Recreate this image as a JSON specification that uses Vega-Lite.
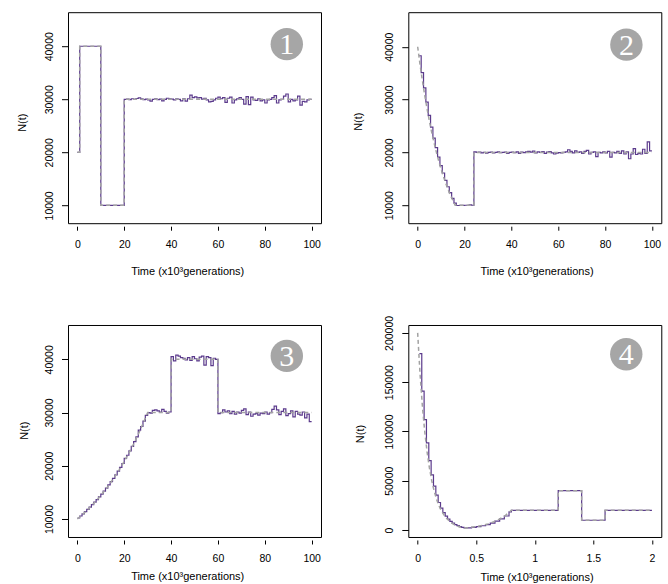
{
  "$schema": "https://vega.github.io/schema/vega-lite/v6.json",
  "background": "white",
  "padding": {"left": 15, "top": 11.2, "right": 5, "bottom": 0},
  "columns": 2,
  "spacing": {"row": 101.8, "column": 87.3},
  "bounds": "flush",
  "datasets": {
    "e1": [
      {"t": 0, "N": 20000}, {"t": 1, "N": 40000}, {"t": 10, "N": 10000}, {"t": 20, "N": 30000},
      {"t": 21, "N": 30050}, {"t": 22, "N": 29950}, {"t": 23, "N": 30100}, {"t": 24, "N": 30000},
      {"t": 25, "N": 30150}, {"t": 26, "N": 30250}, {"t": 27, "N": 30100}, {"t": 28, "N": 29950},
      {"t": 29, "N": 30050}, {"t": 30, "N": 29900}, {"t": 31, "N": 29650}, {"t": 32, "N": 30000},
      {"t": 33, "N": 30100}, {"t": 34, "N": 29950}, {"t": 35, "N": 30050}, {"t": 36, "N": 29700},
      {"t": 37, "N": 30000}, {"t": 38, "N": 30200}, {"t": 39, "N": 30100}, {"t": 40, "N": 30050},
      {"t": 41, "N": 29900}, {"t": 42, "N": 30100}, {"t": 43, "N": 30000}, {"t": 44, "N": 29700},
      {"t": 45, "N": 30100}, {"t": 46, "N": 29650}, {"t": 47, "N": 30100}, {"t": 48, "N": 30800},
      {"t": 49, "N": 30300}, {"t": 50, "N": 30450}, {"t": 51, "N": 30250}, {"t": 52, "N": 30300},
      {"t": 53, "N": 30050}, {"t": 54, "N": 30200}, {"t": 55, "N": 29900}, {"t": 56, "N": 29500},
      {"t": 57, "N": 29600}, {"t": 58, "N": 29900}, {"t": 59, "N": 30200}, {"t": 60, "N": 30400},
      {"t": 61, "N": 30100}, {"t": 62, "N": 30300}, {"t": 63, "N": 29400}, {"t": 64, "N": 30200},
      {"t": 65, "N": 30400}, {"t": 66, "N": 29300}, {"t": 67, "N": 29900}, {"t": 68, "N": 30100},
      {"t": 69, "N": 30300}, {"t": 70, "N": 30000}, {"t": 71, "N": 29100}, {"t": 72, "N": 30500},
      {"t": 73, "N": 29000}, {"t": 74, "N": 30400}, {"t": 75, "N": 29900}, {"t": 76, "N": 29800},
      {"t": 77, "N": 30100}, {"t": 78, "N": 29700}, {"t": 79, "N": 29900}, {"t": 80, "N": 29300},
      {"t": 81, "N": 29900}, {"t": 82, "N": 30000}, {"t": 83, "N": 30300}, {"t": 84, "N": 30700},
      {"t": 85, "N": 29300}, {"t": 86, "N": 29900}, {"t": 87, "N": 30000}, {"t": 88, "N": 30600},
      {"t": 89, "N": 31000}, {"t": 90, "N": 29500}, {"t": 91, "N": 30000}, {"t": 92, "N": 29700},
      {"t": 93, "N": 29900}, {"t": 94, "N": 30600}, {"t": 95, "N": 28900}, {"t": 96, "N": 29600},
      {"t": 97, "N": 29500}, {"t": 98, "N": 29900}, {"t": 99, "N": 30000}, {"t": 100, "N": 30000}
    ],
    "t1": [
      {"t": 0, "N": 20000}, {"t": 1, "N": 20000}, {"t": 1, "N": 40000}, {"t": 10, "N": 40000},
      {"t": 10, "N": 10000}, {"t": 20, "N": 10000}, {"t": 20, "N": 30000}, {"t": 100, "N": 30000}
    ],
    "e2": [
      {"t": 0.6, "N": 38300}, {"t": 1.5, "N": 35100}, {"t": 2.5, "N": 32200}, {"t": 3.5, "N": 29500},
      {"t": 4.5, "N": 27000}, {"t": 5.5, "N": 24800}, {"t": 6.5, "N": 22700}, {"t": 7.5, "N": 20900},
      {"t": 8.5, "N": 19100}, {"t": 9.5, "N": 17500}, {"t": 10.5, "N": 16100}, {"t": 11.5, "N": 14700},
      {"t": 12.5, "N": 13500}, {"t": 13.5, "N": 12400}, {"t": 14.5, "N": 11300}, {"t": 15.5, "N": 10400},
      {"t": 16.5, "N": 9950}, {"t": 18, "N": 9980}, {"t": 20, "N": 10000}, {"t": 22, "N": 10050},
      {"t": 23, "N": 10000}, {"t": 24, "N": 20100}, {"t": 25, "N": 20000}, {"t": 26, "N": 20050},
      {"t": 27, "N": 19900}, {"t": 28, "N": 20000}, {"t": 29, "N": 19850}, {"t": 30, "N": 20000},
      {"t": 31, "N": 20050}, {"t": 32, "N": 19900}, {"t": 33, "N": 20000}, {"t": 34, "N": 20100},
      {"t": 35, "N": 19950}, {"t": 36, "N": 20000}, {"t": 37, "N": 20050}, {"t": 38, "N": 19800},
      {"t": 39, "N": 20000}, {"t": 40, "N": 20050}, {"t": 41, "N": 19950}, {"t": 42, "N": 20100},
      {"t": 43, "N": 19800}, {"t": 44, "N": 20050}, {"t": 45, "N": 19950}, {"t": 46, "N": 20100},
      {"t": 47, "N": 20200}, {"t": 48, "N": 20050}, {"t": 49, "N": 20250}, {"t": 50, "N": 19900},
      {"t": 51, "N": 20100}, {"t": 52, "N": 20000}, {"t": 53, "N": 20150}, {"t": 54, "N": 19800},
      {"t": 55, "N": 20050}, {"t": 56, "N": 20150}, {"t": 57, "N": 19900}, {"t": 58, "N": 19700},
      {"t": 59, "N": 19850}, {"t": 60, "N": 19950}, {"t": 61, "N": 19900}, {"t": 62, "N": 20000},
      {"t": 63, "N": 20100}, {"t": 64, "N": 20500}, {"t": 65, "N": 20200}, {"t": 66, "N": 19900},
      {"t": 67, "N": 20300}, {"t": 68, "N": 20000}, {"t": 69, "N": 20100}, {"t": 70, "N": 19800},
      {"t": 71, "N": 20200}, {"t": 72, "N": 20400}, {"t": 73, "N": 19700}, {"t": 74, "N": 20000},
      {"t": 75, "N": 20100}, {"t": 76, "N": 19200}, {"t": 77, "N": 20000}, {"t": 78, "N": 19900},
      {"t": 79, "N": 20100}, {"t": 80, "N": 19900}, {"t": 81, "N": 20200}, {"t": 82, "N": 19100},
      {"t": 83, "N": 20000}, {"t": 84, "N": 19900}, {"t": 85, "N": 20200}, {"t": 86, "N": 19800},
      {"t": 87, "N": 20300}, {"t": 88, "N": 19700}, {"t": 89, "N": 20100}, {"t": 90, "N": 18800},
      {"t": 91, "N": 19700}, {"t": 92, "N": 20700}, {"t": 93, "N": 19600}, {"t": 94, "N": 19800},
      {"t": 95, "N": 19700}, {"t": 96, "N": 20600}, {"t": 97, "N": 19800}, {"t": 98, "N": 22000},
      {"t": 99, "N": 20300}, {"t": 100, "N": 20300}
    ],
    "t2": [
      {"t": 0, "N": 40000}, {"t": 1, "N": 36680}, {"t": 2, "N": 33636}, {"t": 3, "N": 30844},
      {"t": 4, "N": 28284}, {"t": 5, "N": 25937}, {"t": 6, "N": 23784}, {"t": 7, "N": 21810},
      {"t": 8, "N": 20000}, {"t": 9, "N": 18340}, {"t": 10, "N": 16818}, {"t": 11, "N": 15422},
      {"t": 12, "N": 14142}, {"t": 13, "N": 12968}, {"t": 14, "N": 11892}, {"t": 15, "N": 10905},
      {"t": 16, "N": 10000}, {"t": 24, "N": 10000}, {"t": 24, "N": 20000}, {"t": 100, "N": 20000}
    ],
    "e3": [
      {"t": 0, "N": 10185}, {"t": 1, "N": 10565}, {"t": 2, "N": 10959}, {"t": 3, "N": 11368},
      {"t": 4, "N": 11791}, {"t": 5, "N": 12231}, {"t": 6, "N": 12687}, {"t": 7, "N": 13161},
      {"t": 8, "N": 13652}, {"t": 9, "N": 14161}, {"t": 10, "N": 14689}, {"t": 11, "N": 15237},
      {"t": 12, "N": 15805}, {"t": 13, "N": 16395}, {"t": 14, "N": 17006}, {"t": 15, "N": 17640},
      {"t": 16, "N": 18298}, {"t": 17, "N": 18981}, {"t": 18, "N": 19689}, {"t": 19, "N": 20423},
      {"t": 20, "N": 21400}, {"t": 21, "N": 21975}, {"t": 22, "N": 22795}, {"t": 23, "N": 23645},
      {"t": 24, "N": 24527}, {"t": 25, "N": 25442}, {"t": 26, "N": 26700}, {"t": 27, "N": 27376},
      {"t": 28, "N": 28397}, {"t": 29, "N": 29456}, {"t": 30, "N": 30000}, {"t": 31, "N": 29900},
      {"t": 32, "N": 30400}, {"t": 33, "N": 30500}, {"t": 34, "N": 30300}, {"t": 35, "N": 30100},
      {"t": 36, "N": 30600}, {"t": 37, "N": 30200}, {"t": 38, "N": 29900}, {"t": 39, "N": 30100},
      {"t": 40, "N": 40500}, {"t": 41, "N": 39700}, {"t": 42, "N": 40800}, {"t": 43, "N": 40600},
      {"t": 44, "N": 40300}, {"t": 45, "N": 40200}, {"t": 46, "N": 39900}, {"t": 47, "N": 40300},
      {"t": 48, "N": 39800}, {"t": 49, "N": 40500}, {"t": 50, "N": 40100}, {"t": 51, "N": 39700},
      {"t": 52, "N": 40400}, {"t": 53, "N": 40600}, {"t": 54, "N": 38900}, {"t": 55, "N": 40500},
      {"t": 56, "N": 40300}, {"t": 57, "N": 38800}, {"t": 58, "N": 40200}, {"t": 59, "N": 40000},
      {"t": 60, "N": 29800}, {"t": 61, "N": 30000}, {"t": 62, "N": 30500}, {"t": 63, "N": 30100},
      {"t": 64, "N": 30300}, {"t": 65, "N": 29800}, {"t": 66, "N": 30200}, {"t": 67, "N": 29700},
      {"t": 68, "N": 30100}, {"t": 69, "N": 29900}, {"t": 70, "N": 30400}, {"t": 71, "N": 30700},
      {"t": 72, "N": 29600}, {"t": 73, "N": 30100}, {"t": 74, "N": 29300}, {"t": 75, "N": 29700},
      {"t": 76, "N": 29800}, {"t": 77, "N": 29500}, {"t": 78, "N": 29900}, {"t": 79, "N": 29800},
      {"t": 80, "N": 30100}, {"t": 81, "N": 29700}, {"t": 82, "N": 30000}, {"t": 83, "N": 30600},
      {"t": 84, "N": 31200}, {"t": 85, "N": 30500}, {"t": 86, "N": 29600}, {"t": 87, "N": 30200},
      {"t": 88, "N": 30700}, {"t": 89, "N": 29400}, {"t": 90, "N": 29800}, {"t": 91, "N": 30300},
      {"t": 92, "N": 29200}, {"t": 93, "N": 30200}, {"t": 94, "N": 29700}, {"t": 95, "N": 29500},
      {"t": 96, "N": 30100}, {"t": 97, "N": 29000}, {"t": 98, "N": 29700}, {"t": 99, "N": 28300},
      {"t": 100, "N": 28300}
    ],
    "t3": [
      {"t": 0, "N": 10000}, {"t": 2, "N": 10760}, {"t": 4, "N": 11578}, {"t": 6, "N": 12457},
      {"t": 8, "N": 13404}, {"t": 10, "N": 14422}, {"t": 12, "N": 15518}, {"t": 14, "N": 16697},
      {"t": 16, "N": 17966}, {"t": 18, "N": 19332}, {"t": 20, "N": 20801}, {"t": 22, "N": 22382},
      {"t": 24, "N": 24082}, {"t": 26, "N": 25913}, {"t": 28, "N": 27883}, {"t": 30, "N": 30000},
      {"t": 40, "N": 30000}, {"t": 40, "N": 40000}, {"t": 60, "N": 40000}, {"t": 60, "N": 30000},
      {"t": 100, "N": 30000}
    ],
    "e4": [
      {"t": 0.015, "N": 179000}, {"t": 0.035, "N": 141000}, {"t": 0.055, "N": 112000}, {"t": 0.075, "N": 88500},
      {"t": 0.095, "N": 70500}, {"t": 0.115, "N": 56000}, {"t": 0.135, "N": 44500}, {"t": 0.155, "N": 35500},
      {"t": 0.175, "N": 28000}, {"t": 0.195, "N": 22300}, {"t": 0.215, "N": 17800}, {"t": 0.235, "N": 14100},
      {"t": 0.255, "N": 11200}, {"t": 0.275, "N": 8900}, {"t": 0.295, "N": 7100}, {"t": 0.315, "N": 5600},
      {"t": 0.335, "N": 4500}, {"t": 0.355, "N": 3500}, {"t": 0.375, "N": 2800}, {"t": 0.395, "N": 2100},
      {"t": 0.42, "N": 2300}, {"t": 0.46, "N": 2800}, {"t": 0.5, "N": 3500}, {"t": 0.54, "N": 4400},
      {"t": 0.58, "N": 5600}, {"t": 0.62, "N": 7100}, {"t": 0.66, "N": 9000}, {"t": 0.7, "N": 11300},
      {"t": 0.74, "N": 14300}, {"t": 0.78, "N": 18500}, {"t": 0.8, "N": 20000}, {"t": 1.2, "N": 40000},
      {"t": 1.4, "N": 10000}, {"t": 1.6, "N": 20000}, {"t": 2, "N": 20000}
    ],
    "t4": [
      {"t": 0, "N": 200000}, {"t": 0.02, "N": 158866}, {"t": 0.04, "N": 126191}, {"t": 0.06, "N": 100237},
      {"t": 0.08, "N": 79621}, {"t": 0.1, "N": 63246}, {"t": 0.12, "N": 50238}, {"t": 0.14, "N": 39905},
      {"t": 0.16, "N": 31698}, {"t": 0.18, "N": 25179}, {"t": 0.2, "N": 20000}, {"t": 0.24, "N": 12619},
      {"t": 0.28, "N": 7962}, {"t": 0.32, "N": 5024}, {"t": 0.36, "N": 3170}, {"t": 0.4, "N": 2000},
      {"t": 0.45, "N": 2667}, {"t": 0.5, "N": 3557}, {"t": 0.55, "N": 4743}, {"t": 0.6, "N": 6325},
      {"t": 0.65, "N": 8434}, {"t": 0.7, "N": 11247}, {"t": 0.75, "N": 14998}, {"t": 0.8, "N": 20000},
      {"t": 1.2, "N": 20000}, {"t": 1.2, "N": 40000}, {"t": 1.4, "N": 40000}, {"t": 1.4, "N": 10000},
      {"t": 1.6, "N": 10000}, {"t": 1.6, "N": 20000}, {"t": 2, "N": 20000}
    ]
  },
  "concat": [
    {
      "width": 253, "height": 211,
      "layer": [
        {"data": {"name": "e1"}, "mark": {"type": "line", "interpolate": "step-after", "color": "#5b3a8c", "strokeWidth": 1.2},
         "encoding": {
           "x": {"field": "t", "type": "quantitative", "title": "Time (x10³generations)",
                 "scale": {"domain": [-4, 104], "nice": false, "zero": false},
                 "axis": {"values": [0, 20, 40, 60, 80, 100], "format": "d", "titleX": 119.2, "titleY": 48.8}},
           "y": {"field": "N", "type": "quantitative", "title": "N(t)",
                 "scale": {"domain": [6640, 46420], "nice": false, "zero": false},
                 "axis": {"values": [10000, 20000, 30000, 40000], "format": "d", "titleX": -42.8, "titleY": 110}}}},
        {"data": {"name": "t1"}, "mark": {"type": "line", "color": "#a3a3a3", "strokeDash": [4, 3], "strokeWidth": 1.5},
         "encoding": {"x": {"field": "t", "type": "quantitative"}, "y": {"field": "N", "type": "quantitative"}, "order": {"value": null}}},
        {"data": {"values": [{"k": "1"}]}, "mark": {"type": "circle", "size": 1050, "color": "#a6a6a6", "opacity": 1},
         "encoding": {"x": {"datum": 89.4}, "y": {"datum": 40400}}},
        {"data": {"values": [{"k": "1"}]}, "mark": {"type": "text", "font": "Liberation Serif", "fontSize": 30, "color": "white", "baseline": "alphabetic", "align": "center", "dy": 10},
         "encoding": {"x": {"datum": 89.4}, "y": {"datum": 40400}, "text": {"field": "k"}}}
      ]
    },
    {
      "width": 253, "height": 211,
      "layer": [
        {"data": {"name": "e2"}, "mark": {"type": "line", "interpolate": "step-after", "color": "#5b3a8c", "strokeWidth": 1.2},
         "encoding": {
           "x": {"field": "t", "type": "quantitative", "title": "Time (x10³generations)",
                 "scale": {"domain": [-4, 104], "nice": false, "zero": false},
                 "axis": {"values": [0, 20, 40, 60, 80, 100], "format": "d", "titleX": 128.2, "titleY": 48.8}},
           "y": {"field": "N", "type": "quantitative", "title": "N(t)",
                 "scale": {"domain": [6600, 46540], "nice": false, "zero": false},
                 "axis": {"values": [10000, 20000, 30000, 40000], "format": "d", "titleX": -46.5, "titleY": 109}}}},
        {"data": {"name": "t2"}, "mark": {"type": "line", "color": "#a3a3a3", "strokeDash": [4, 3], "strokeWidth": 1.5},
         "encoding": {"x": {"field": "t", "type": "quantitative"}, "y": {"field": "N", "type": "quantitative"}, "order": {"value": null}}},
        {"data": {"values": [{"k": "2"}]}, "mark": {"type": "circle", "size": 1050, "color": "#a6a6a6", "opacity": 1},
         "encoding": {"x": {"datum": 89.1}, "y": {"datum": 40400}}},
        {"data": {"values": [{"k": "2"}]}, "mark": {"type": "text", "font": "Liberation Serif", "fontSize": 30, "color": "white", "baseline": "alphabetic", "align": "center", "dy": 10},
         "encoding": {"x": {"datum": 89.1}, "y": {"datum": 40400}, "text": {"field": "k"}}}
      ]
    },
    {
      "width": 253, "height": 212,
      "layer": [
        {"data": {"name": "e3"}, "mark": {"type": "line", "interpolate": "step-after", "color": "#5b3a8c", "strokeWidth": 1.2},
         "encoding": {
           "x": {"field": "t", "type": "quantitative", "title": "Time (x10³generations)",
                 "scale": {"domain": [-4, 104], "nice": false, "zero": false},
                 "axis": {"values": [0, 20, 40, 60, 80, 100], "format": "d", "titleX": 119.2, "titleY": 40}},
           "y": {"field": "N", "type": "quantitative", "title": "N(t)",
                 "scale": {"domain": [6618, 46445], "nice": false, "zero": false},
                 "axis": {"values": [10000, 20000, 30000, 40000], "format": "d", "titleX": -40.5, "titleY": 105.2}}}},
        {"data": {"name": "t3"}, "mark": {"type": "line", "color": "#a3a3a3", "strokeDash": [4, 3], "strokeWidth": 1.5},
         "encoding": {"x": {"field": "t", "type": "quantitative"}, "y": {"field": "N", "type": "quantitative"}, "order": {"value": null}}},
        {"data": {"values": [{"k": "3"}]}, "mark": {"type": "circle", "size": 1050, "color": "#a6a6a6", "opacity": 1},
         "encoding": {"x": {"datum": 89.4}, "y": {"datum": 40640}}},
        {"data": {"values": [{"k": "3"}]}, "mark": {"type": "text", "font": "Liberation Serif", "fontSize": 30, "color": "white", "baseline": "alphabetic", "align": "center", "dy": 10},
         "encoding": {"x": {"datum": 89.4}, "y": {"datum": 40640}, "text": {"field": "k"}}}
      ]
    },
    {
      "width": 253, "height": 212,
      "layer": [
        {"data": {"name": "e4"}, "mark": {"type": "line", "interpolate": "step-after", "color": "#5b3a8c", "strokeWidth": 1.2},
         "encoding": {
           "x": {"field": "t", "type": "quantitative", "title": "Time (x10³generations)",
                 "scale": {"domain": [-0.08, 2.08], "nice": false, "zero": false},
                 "axis": {"values": [0, 0.5, 1, 1.5, 2], "format": "~g", "titleX": 128.2, "titleY": 41}},
           "y": {"field": "N", "type": "quantitative", "title": "N(t)",
                 "scale": {"domain": [-7000, 208000], "nice": false, "zero": false},
                 "axis": {"values": [0, 50000, 100000, 150000, 200000], "format": "d", "titleX": -44.8, "titleY": 108.5}}}},
        {"data": {"name": "t4"}, "mark": {"type": "line", "color": "#a3a3a3", "strokeDash": [4, 3], "strokeWidth": 1.5},
         "encoding": {"x": {"field": "t", "type": "quantitative"}, "y": {"field": "N", "type": "quantitative"}, "order": {"value": null}}},
        {"data": {"values": [{"k": "4"}]}, "mark": {"type": "circle", "size": 1050, "color": "#a6a6a6", "opacity": 1},
         "encoding": {"x": {"datum": 1.781}, "y": {"datum": 178400}}},
        {"data": {"values": [{"k": "4"}]}, "mark": {"type": "text", "font": "Liberation Serif", "fontSize": 30, "color": "white", "baseline": "alphabetic", "align": "center", "dy": 10},
         "encoding": {"x": {"datum": 1.781}, "y": {"datum": 178400}, "text": {"field": "k"}}}
      ]
    }
  ],
  "config": {
    "view": {"stroke": "black", "strokeWidth": 1},
    "axis": {"grid": false, "domain": false, "tickColor": "black", "tickWidth": 1,
             "labelColor": "black", "labelFont": "Liberation Sans", "labelFontSize": 10.5,
             "titleFont": "Liberation Sans", "titleFontSize": 11, "titleFontWeight": "normal", "titleColor": "black",
             "labelFlush": false, "labelOverlap": false},
    "axisX": {"offset": 3, "tickSize": 4, "labelPadding": 9.5, "titleBaseline": "alphabetic", "titleAlign": "center", "titleAngle": 0},
    "axisY": {"tickSize": 6.5, "labelAngle": -90, "labelAlign": "center", "labelBaseline": "alphabetic", "labelPadding": 9,
              "titleAngle": -90, "titleBaseline": "alphabetic", "titleAlign": "center"}
  }
}
